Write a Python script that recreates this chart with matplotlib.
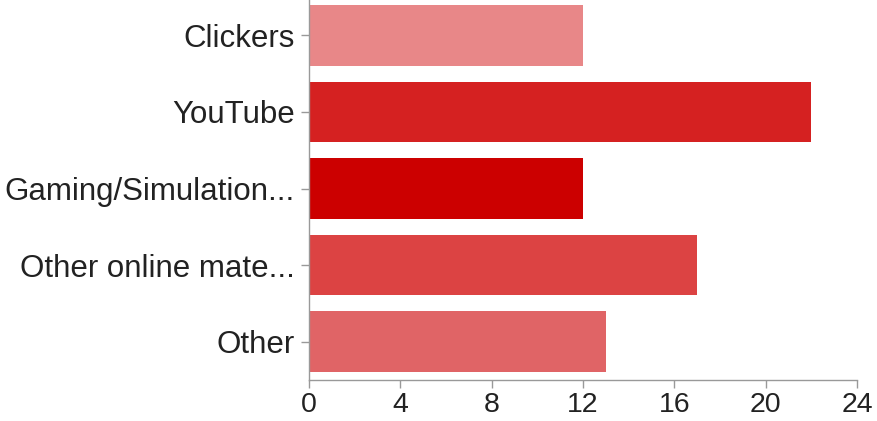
import matplotlib
matplotlib.use("Agg")
import matplotlib.pyplot as plt

# Data
categories = ["Clickers", "YouTube", "Gaming/Simulation...",
              "Other online mate...", "Other"]
counts = [12, 22, 12, 17, 13]
barColors = ["#E88788", "#D52121", "#CC0000", "#DC4343", "#E06466"]
xTicks = [0, 4, 8, 12, 16, 20, 24]

plt.rcParams['font.family'] = ['Liberation Sans', 'DejaVu Sans']

fig = plt.figure(figsize=(8.78, 4.21), dpi=100)
ax = fig.add_axes([309 / 878, 41 / 421, 548 / 878, 383 / 421])

positions = list(range(len(categories)))
ax.barh(positions, counts, height=0.79, color=barColors, zorder=2)

ax.set_ylim(len(categories) - 0.5, -0.5)
ax.set_xlim(0, 24)
ax.set_xticks(xTicks)
ax.set_xticklabels([str(t) for t in xTicks])
ax.set_yticks(positions)
ax.set_yticklabels(categories)

# Axis styling
for side in ("top", "right"):
    ax.spines[side].set_visible(False)
for side in ("left", "bottom"):
    ax.spines[side].set_color("#999999")
    ax.spines[side].set_linewidth(1.0)
ax.tick_params(axis="both", colors="#999999", labelcolor="#222222",
               length=6, width=1.0)
ax.tick_params(axis="y", pad=4, labelsize=22.5)
ax.tick_params(axis="x", pad=2.5, labelsize=20.5)

fig.savefig("out.png", dpi=100)
